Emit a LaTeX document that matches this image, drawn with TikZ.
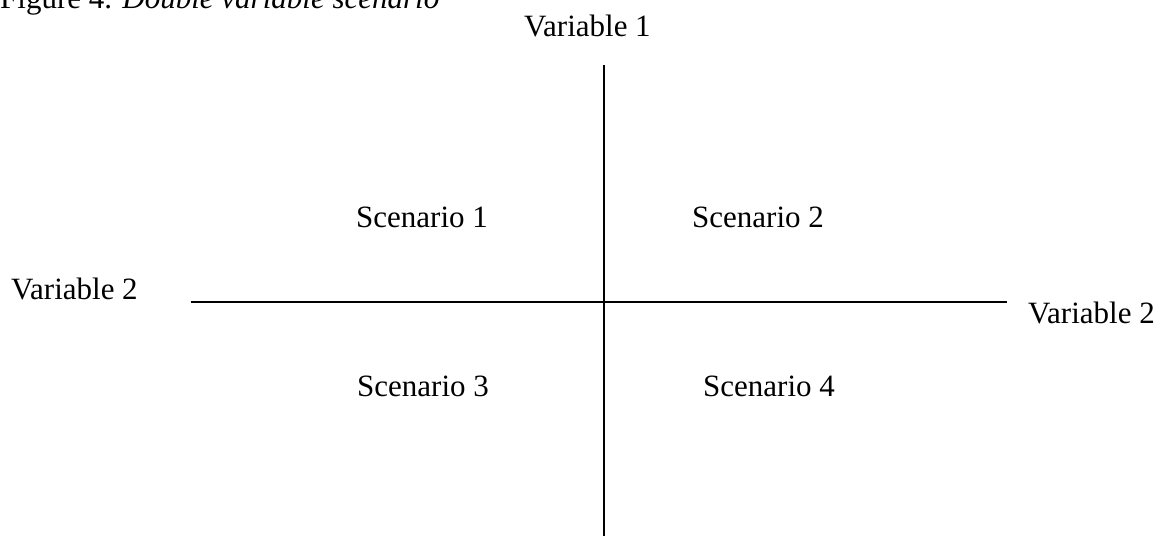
\documentclass[tikz,border=0pt]{standalone}
\usepackage{fontspec}
\setmainfont{Liberation Serif}
\begin{document}
\begin{tikzpicture}[x=1pt,y=-1pt,
  lbl/.style={inner sep=0pt,anchor=base west,font=\fontsize{31}{36}\selectfont},
  axis/.style={line width=2pt}]
\useasboundingbox (0,0) rectangle (1167,536);
\node[lbl] (title) at (0,8) {Figure 4. \textit{Double variable scenario}};
\node[lbl] (v1) at (524,36) {Variable 1};
\node[lbl] (v2l) at (11,299) {Variable 2};
\node[lbl] (v2r) at (1028,323) {Variable 2};
\node[lbl] (s1) at (356,227) {Scenario 1};
\node[lbl] (s2) at (692,227) {Scenario 2};
\node[lbl] (s3) at (357,396) {Scenario 3};
\node[lbl] (s4) at (703,396) {Scenario 4};
\coordinate (top) at (604,65);
\coordinate (bot) at (604,536);
\coordinate (lft) at (191,302);
\coordinate (rgt) at (1007,302);
\draw[axis] (top) -- (bot);
\draw[axis] (lft) -- (rgt);
\end{tikzpicture}
\end{document}
